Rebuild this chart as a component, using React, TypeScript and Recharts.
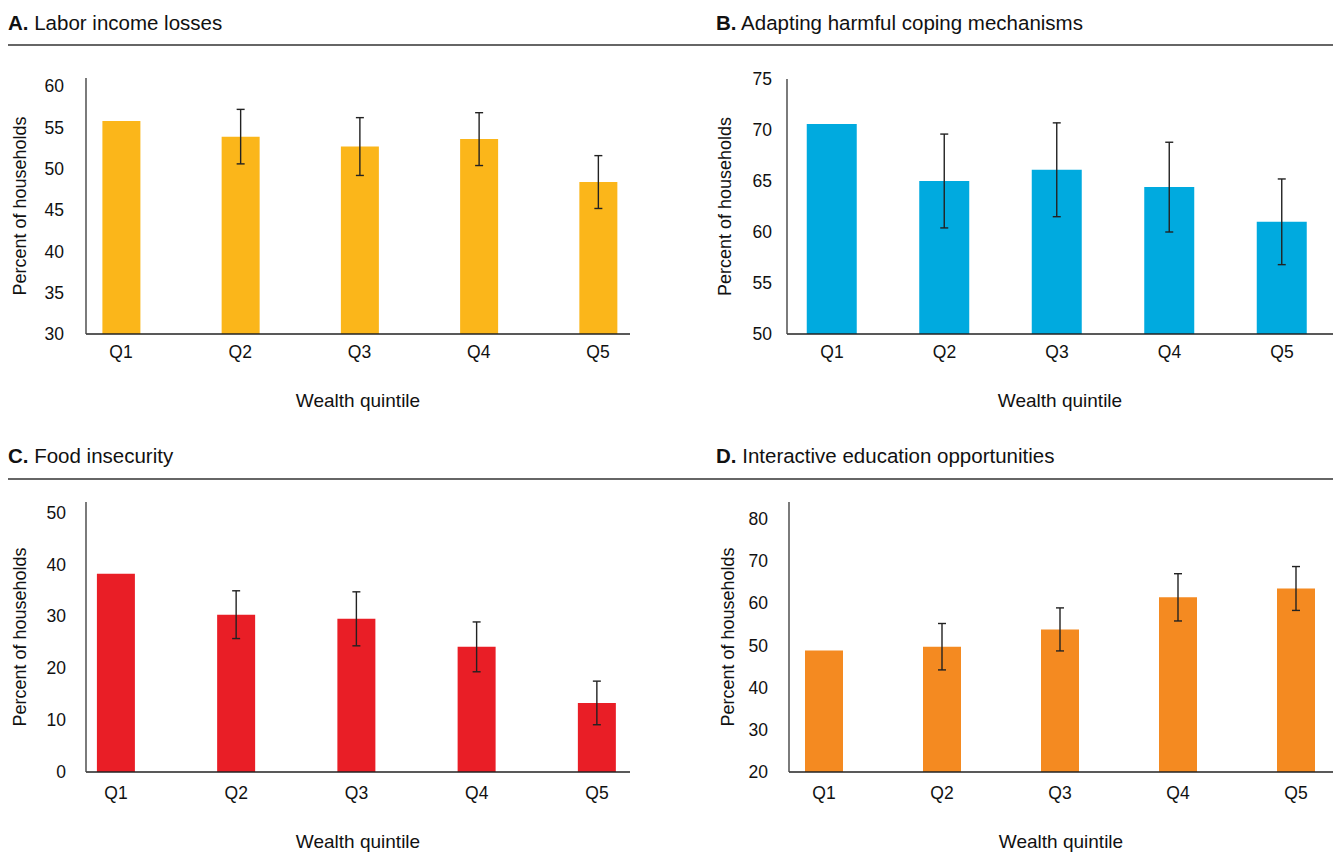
import React from 'react';
import { BarChart, Bar, XAxis, YAxis, ErrorBar } from 'recharts';

const FONT = "'Liberation Sans', Arial, sans-serif";

const quintiles = ['Q1', 'Q2', 'Q3', 'Q4', 'Q5'];

// A. Labor income losses
const laborIncomeLosses = [55.8, 53.9, 52.7, 53.6, 48.4];
const laborIncomeErr = [null, 3.3, 3.5, 3.2, 3.2];
const laborTicks = [30, 35, 40, 45, 50, 55, 60];

// B. Adapting harmful coping mechanisms
const copingMechanisms = [70.6, 65.0, 66.1, 64.4, 61.0];
const copingErr = [null, 4.6, 4.6, 4.4, 4.2];
const copingTicks = [50, 55, 60, 65, 70, 75];

// C. Food insecurity
const foodInsecurity = [38.2, 30.3, 29.5, 24.1, 13.3];
const foodErr = [null, 4.6, 5.2, 4.8, 4.2];
const foodTicks = [0, 10, 20, 30, 40, 50];

// D. Interactive education opportunities
const educationOpps = [48.8, 49.7, 53.8, 61.4, 63.5];
const educationErr = [null, 5.5, 5.1, 5.6, 5.2];
const educationTicks = [20, 30, 40, 50, 60, 70, 80];

interface PanelProps {
  left: number;
  top: number;
  width: number;
  height: number;
  values: number[];
  errors: (number | null)[];
  color: string;
  domain: [number, number];
  ticks: number[];
  margin: { top: number; right: number; bottom: number; left: number };
  yWidth: number;
  padding: { left: number; right: number };
  barSize: number;
  yTickMargin: number;
  xTickMargin: number;
  yLabelOffset: number;
  xLabelOffset: number;
}

const Panel: React.FC<PanelProps> = (p) => {
  const data = quintiles.map((q, i) => ({ q, value: p.values[i], err: p.errors[i] }));
  return (
    <div style={{ position: 'absolute', left: p.left, top: p.top }}>
      <BarChart width={p.width} height={p.height} data={data} margin={p.margin}>
        <XAxis
          dataKey="q"
          height={30}
          padding={p.padding}
          axisLine={{ stroke: '#222', strokeWidth: 1.6 }}
          tickLine={false}
          tickSize={0}
          tickMargin={p.xTickMargin}
          tick={{ fontSize: 17.5, fill: '#111' }}
          label={{ value: 'Wealth quintile', position: 'bottom', offset: p.xLabelOffset, style: { fontSize: 19, fill: '#111' } }}
        />
        <YAxis
          width={p.yWidth}
          domain={p.domain}
          ticks={p.ticks}
          interval={0}
          axisLine={{ stroke: '#444', strokeWidth: 1.4 }}
          tickLine={false}
          tickSize={0}
          tickMargin={p.yTickMargin}
          tick={{ fontSize: 17.5, fill: '#111' }}
          label={{
            value: 'Percent of households',
            angle: -90,
            position: 'insideLeft',
            offset: p.yLabelOffset,
            style: { textAnchor: 'middle', fontSize: 18, fill: '#111' },
          }}
        />
        <Bar dataKey="value" fill={p.color} barSize={p.barSize} isAnimationActive={false}>
          <ErrorBar dataKey="err" width={4} stroke="#222" strokeWidth={1.4} direction="y" isAnimationActive={false} />
        </Bar>
      </BarChart>
    </div>
  );
};

const App: React.FC = () => {
  return (
    <div style={{ position: 'absolute', left: 0, top: 0, width: 1333, height: 863, background: '#fff', fontFamily: FONT }}>
      <Panel
        left={0}
        top={0}
        width={660}
        height={430}
        values={laborIncomeLosses}
        errors={laborIncomeErr}
        color="#FBB61A"
        domain={[30, 61]}
        ticks={laborTicks}
        margin={{ top: 78, right: 30, bottom: 66, left: 8 }}
        yWidth={78}
        padding={{ left: -24.6, right: -27.6 }}
        barSize={38}
        yTickMargin={22}
        xTickMargin={12}
        yLabelOffset={12}
        xLabelOffset={30}
      />
      <Panel
        left={660}
        top={0}
        width={673}
        height={430}
        values={copingMechanisms}
        errors={copingErr}
        color="#00AADF"
        domain={[50, 75]}
        ticks={copingTicks}
        margin={{ top: 79, right: 0, bottom: 66, left: 49 }}
        yWidth={78}
        padding={{ left: -11.25, right: -5.25 }}
        barSize={50}
        yTickMargin={15}
        xTickMargin={12}
        yLabelOffset={16}
        xLabelOffset={30}
      />
      <Panel
        left={0}
        top={430}
        width={660}
        height={433}
        values={foodInsecurity}
        errors={foodErr}
        color="#E91E26"
        domain={[0, 52]}
        ticks={foodTicks}
        margin={{ top: 72, right: 30, bottom: 61, left: 8 }}
        yWidth={78}
        padding={{ left: -30.1, right: -27.1 }}
        barSize={38}
        yTickMargin={20}
        xTickMargin={15}
        yLabelOffset={12}
        xLabelOffset={33}
      />
      <Panel
        left={660}
        top={430}
        width={673}
        height={433}
        values={educationOpps}
        errors={educationErr}
        color="#F48A21"
        domain={[20, 84]}
        ticks={educationTicks}
        margin={{ top: 72, right: 0, bottom: 61, left: 51 }}
        yWidth={78}
        padding={{ left: -24, right: -22 }}
        barSize={38}
        yTickMargin={21}
        xTickMargin={15}
        yLabelOffset={17}
        xLabelOffset={33}
      />
      <svg width={1333} height={863} style={{ position: 'absolute', left: 0, top: 0, pointerEvents: 'none' }}>
        <g fontSize={20.5} fill="#111">
          <text x={8} y={30}>
            <tspan fontWeight="bold">A.</tspan> Labor income losses
          </text>
          <text x={716} y={30}>
            <tspan fontWeight="bold">B.</tspan> Adapting harmful coping mechanisms
          </text>
          <text x={8} y={463}>
            <tspan fontWeight="bold">C.</tspan> Food insecurity
          </text>
          <text x={716} y={463}>
            <tspan fontWeight="bold">D.</tspan> Interactive education opportunities
          </text>
        </g>
        <line x1={8} x2={1333} y1={45} y2={45} stroke="#333" strokeWidth={1.5} />
        <line x1={8} x2={1333} y1={479} y2={479} stroke="#333" strokeWidth={1.5} />
      </svg>
    </div>
  );
};

export default App;
